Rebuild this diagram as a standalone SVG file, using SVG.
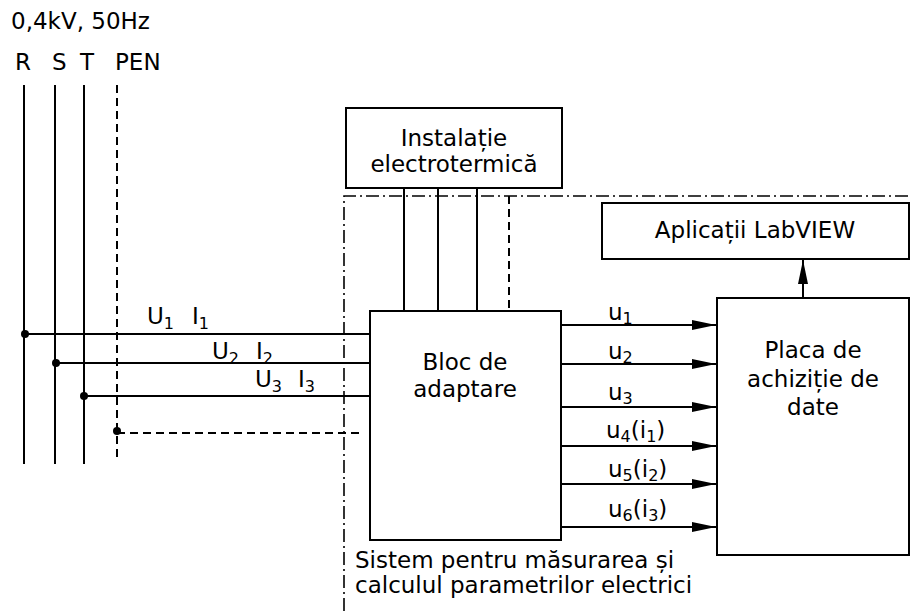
<svg xmlns="http://www.w3.org/2000/svg" width="911" height="611" viewBox="0 0 911 611">
<defs>
<style>
text{font-family:"DejaVu Sans","Verdana",sans-serif;font-size:23px;fill:#000}
.c{text-anchor:middle}
.sub{font-size:16px}
.box{fill:#fff;stroke:#000;stroke-width:2}
.ln{stroke:#000;stroke-width:2;fill:none}
.dash{stroke:#000;stroke-width:2;fill:none;stroke-dasharray:8 5}
.dd{stroke:#000;stroke-width:1.6;fill:none;stroke-dasharray:13 4 2 4}
</style>
<marker id="ah" viewBox="0 0 24 10" refX="24" refY="5" markerWidth="24" markerHeight="10" markerUnits="userSpaceOnUse" orient="auto">
<path d="M0,0 L24,5 L0,10 Z" fill="#000"/>
</marker>
</defs>
<rect width="911" height="611" fill="#fff"/>

<g id="header">
<text x="11" y="29">0,4kV, 50Hz</text>
<text x="15" y="70">R</text>
<text x="52" y="70">S</text>
<text x="80" y="70">T</text>
<text x="115" y="70">PEN</text>
</g>

<g id="boundary">
<path class="dd" d="M344,611 V196 H911"/>
<text x="355" y="568">Sistem pentru măsurarea și</text>
<text x="355" y="593">calculul parametrilor electrici</text>
</g>

<g id="connectors">
<line class="ln" x1="24" y1="85" x2="24" y2="464"/>
<line class="ln" x1="55" y1="85" x2="55" y2="464"/>
<line class="ln" x1="84" y1="85" x2="84" y2="464"/>
<line class="dash" x1="117" y1="85" x2="117" y2="458"/>
<line class="ln" x1="24" y1="334" x2="370" y2="334"/>
<line class="ln" x1="55" y1="363" x2="370" y2="363"/>
<line class="ln" x1="84" y1="396" x2="370" y2="396"/>
<line class="dash" x1="117" y1="433" x2="364" y2="433"/>
<circle cx="25" cy="334" r="4"/>
<circle cx="56" cy="363" r="4"/>
<circle cx="84" cy="396" r="4"/>
<circle cx="117" cy="431" r="4"/>
<line class="ln" x1="404" y1="188" x2="404" y2="310"/>
<line class="ln" x1="438" y1="188" x2="438" y2="310"/>
<line class="ln" x1="477" y1="188" x2="477" y2="310"/>
<line class="dash" x1="509" y1="196" x2="509" y2="310"/>
<line class="ln" x1="561" y1="325" x2="716" y2="325" marker-end="url(#ah)"/>
<line class="ln" x1="561" y1="364" x2="716" y2="364" marker-end="url(#ah)"/>
<line class="ln" x1="561" y1="407" x2="716" y2="407" marker-end="url(#ah)"/>
<line class="ln" x1="561" y1="446" x2="716" y2="446" marker-end="url(#ah)"/>
<line class="ln" x1="561" y1="484" x2="716" y2="484" marker-end="url(#ah)"/>
<line class="ln" x1="561" y1="527" x2="716" y2="527" marker-end="url(#ah)"/>
<line class="ln" x1="803" y1="297" x2="803" y2="260" marker-end="url(#ah)"/>
<text x="147" y="324">U<tspan class="sub" dy="5">1</tspan><tspan dy="-5" x="192">I</tspan><tspan class="sub" dy="5">1</tspan></text>
<text x="212" y="359">U<tspan class="sub" dy="5">2</tspan><tspan dy="-5" x="256">I</tspan><tspan class="sub" dy="5">2</tspan></text>
<text x="255" y="387">U<tspan class="sub" dy="5">3</tspan><tspan dy="-5" x="298">I</tspan><tspan class="sub" dy="5">3</tspan></text>
<text x="608" y="320">u<tspan class="sub" dy="4">1</tspan></text>
<text x="608" y="359">u<tspan class="sub" dy="4">2</tspan></text>
<text x="608" y="400">u<tspan class="sub" dy="4">3</tspan></text>
<text x="606" y="438">u<tspan class="sub" dy="4">4</tspan><tspan dy="-4">(i</tspan><tspan class="sub" dy="4">1</tspan><tspan dy="-4">)</tspan></text>
<text x="608" y="477">u<tspan class="sub" dy="4">5</tspan><tspan dy="-4">(i</tspan><tspan class="sub" dy="4">2</tspan><tspan dy="-4">)</tspan></text>
<text x="608" y="517">u<tspan class="sub" dy="4">6</tspan><tspan dy="-4">(i</tspan><tspan class="sub" dy="4">3</tspan><tspan dy="-4">)</tspan></text>
</g>

<g id="instalatie">
<rect class="box" x="346" y="108" width="216" height="80"/>
<text class="c" x="454" y="146">Instalație</text>
<text class="c" x="454" y="172">electrotermică</text>
</g>

<g id="bloc">
<rect class="box" x="370" y="311" width="191" height="229"/>
<text class="c" x="465" y="370">Bloc de</text>
<text class="c" x="465" y="397">adaptare</text>
</g>

<g id="labview">
<rect class="box" x="602" y="203" width="307" height="56"/>
<text class="c" x="755" y="238">Aplicații LabVIEW</text>
</g>

<g id="placa">
<rect class="box" x="717" y="298" width="192" height="257"/>
<text class="c" x="813" y="358">Placa de</text>
<text class="c" x="813" y="387">achiziție de</text>
<text class="c" x="813" y="415">date</text>
</g>
</svg>
